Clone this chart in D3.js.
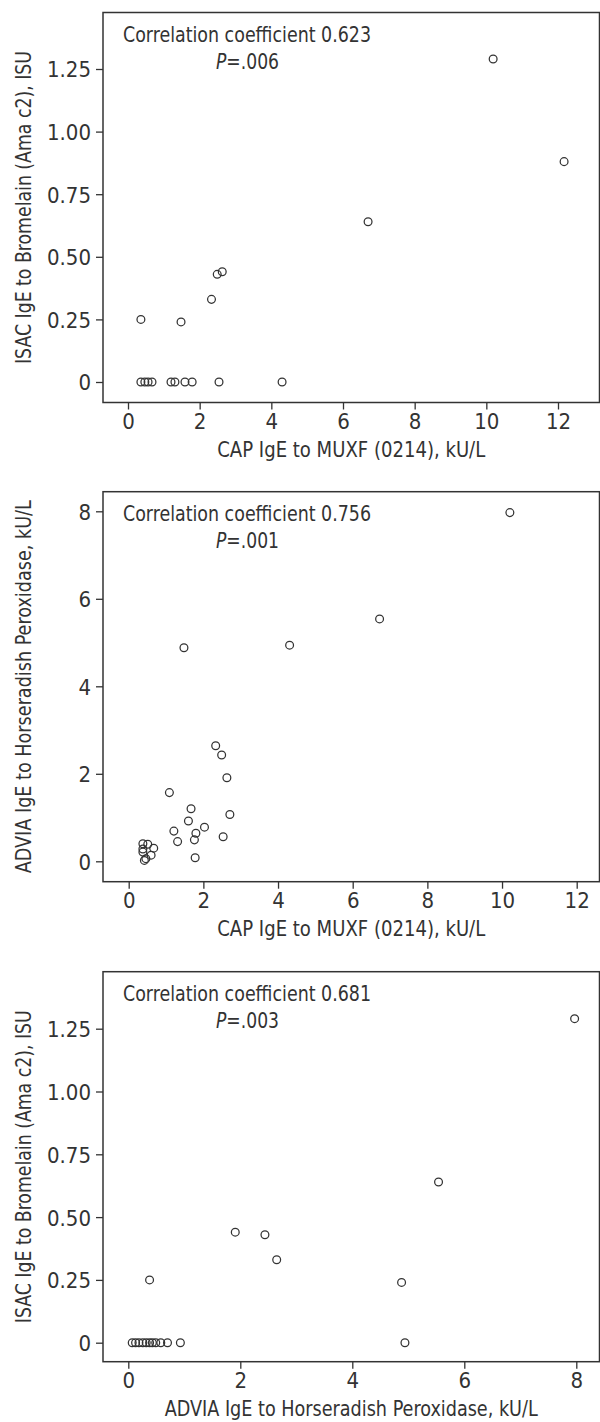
<!DOCTYPE html>
<html>
<head>
<meta charset="utf-8">
<script src="https://cdn.jsdelivr.net/npm/d3@7"></script>
<style>
  html, body { margin: 0; padding: 0; background: #fff; }
  svg { display: block; }
  text { font-family: "Liberation Sans Narrow", "DejaVu Sans Condensed", "Roboto Condensed", sans-serif; fill: #333; }
</style>
</head>
<body>
<svg id="chart" width="600" height="1422"></svg>
<script>
// ---- Data ----
// Panel A: CAP IgE to MUXF (x) vs ISAC IgE to Bromelain (y)
const capA  = [0.36, 0.47, 0.56, 0.67, 1.20, 1.31, 1.59, 1.79, 2.54, 4.30, 0.36, 1.48, 2.33, 2.49, 2.63, 6.70, 10.19, 12.17];
const isacA = [0, 0, 0, 0, 0, 0, 0, 0, 0, 0, 0.25, 0.24, 0.33, 0.43, 0.44, 0.64, 1.29, 0.88];

// Panel B: CAP IgE to MUXF (x) vs ADVIA IgE to Horseradish Peroxidase (y)
const capB   = [10.21, 6.72, 4.31, 1.48, 2.33, 2.49, 2.63, 1.09, 1.67, 2.71, 1.60, 2.03, 1.21, 1.80, 2.53, 1.76, 1.31, 1.78, 0.38, 0.51, 0.67, 0.38, 0.38, 0.60, 0.46, 0.42];
const adviaB = [7.97, 5.54, 4.94, 4.88, 2.64, 2.43, 1.91, 1.57, 1.20, 1.07, 0.92, 0.78, 0.69, 0.64, 0.56, 0.49, 0.45, 0.08, 0.40, 0.39, 0.30, 0.28, 0.21, 0.14, 0.06, 0.02];

// Panel C: ADVIA IgE to Horseradish Peroxidase (x) vs ISAC IgE to Bromelain (y)
const adviaC = [7.97, 5.54, 4.88, 4.94, 1.91, 2.44, 2.65, 0.38, 0.07, 0.13, 0.19, 0.26, 0.32, 0.38, 0.43, 0.49, 0.58, 0.70, 0.93];
const isacC  = [1.29, 0.64, 0.24, 0, 0.44, 0.43, 0.33, 0.25, 0, 0, 0, 0, 0, 0, 0, 0, 0, 0, 0];

// Tick values
const ticksCap   = [0, 2, 4, 6, 8, 10, 12];
const ticksAdvX  = [0, 2, 4, 6, 8];
const ticksIsac  = [0, 0.25, 0.5, 0.75, 1.0, 1.25];
const ticksAdvY  = [0, 2, 4, 6, 8];

// Labels
const titleCap  = "CAP IgE to MUXF (0214), kU/L";
const titleIsac = "ISAC IgE to Bromelain (Ama c2), ISU";
const titleAdv  = "ADVIA IgE to Horseradish Peroxidase, kU/L";
const corrA = ["Correlation coefficient 0.623", ".006"];
const corrB = ["Correlation coefficient 0.756", ".001"];
const corrC = ["Correlation coefficient 0.681", ".003"];

// ---- Drawing ----
const svg = d3.select("#chart");
const INK = "#333";
const fmtIsac = d => d === 0 ? "0" : d3.format(".2f")(d);
const fmtInt = d => String(d);

function panel(cfg) {
  const { top, xs, ys, xTicks, yTicks, xFmt, yFmt, xTitle, yTitle, xTitleLen, yTitleLen, corr, xv, yv } = cfg;
  const left = 103, right = 599.5, bottom = top + 390;
  const g = svg.append("g");

  // frame
  g.append("rect")
    .attr("x", left).attr("y", top)
    .attr("width", right - left).attr("height", bottom - top)
    .attr("fill", "none").attr("stroke", INK).attr("stroke-width", 1.5);

  // axes
  const xAxis = g.append("g").attr("transform", `translate(0,${bottom})`)
    .call(d3.axisBottom(xs).tickValues(xTicks).tickFormat(xFmt).tickSize(7).tickPadding(3));
  const yAxis = g.append("g").attr("transform", `translate(${left},0)`)
    .call(d3.axisLeft(ys).tickValues(yTicks).tickFormat(yFmt).tickSize(7).tickPadding(5));
  [xAxis, yAxis].forEach(a => {
    a.select(".domain").remove();
    a.selectAll(".tick line").attr("stroke", INK).attr("stroke-width", 1.3);
    a.selectAll(".tick text").attr("font-size", 22).attr("fill", INK)
      .style("font-family", '"Liberation Sans Narrow", "DejaVu Sans Condensed", sans-serif');
  });
  yAxis.selectAll(".tick text").attr("dy", "0.36em");
  xAxis.selectAll(".tick text").attr("dy", "0.75em");

  // points
  g.append("g").selectAll("circle")
    .data(xv.map((v, i) => [v, yv[i]]))
    .join("circle")
    .attr("cx", d => xs(d[0])).attr("cy", d => ys(d[1]))
    .attr("r", 3.9)
    .attr("fill", "none").attr("stroke", INK).attr("stroke-width", 1.25);

  // axis titles
  g.append("text")
    .attr("x", (left + right) / 2).attr("y", bottom + 54.5)
    .attr("text-anchor", "middle").attr("font-size", 22)
    .attr("textLength", xTitleLen).attr("lengthAdjust", "spacingAndGlyphs")
    .text(xTitle);
  g.append("text")
    .attr("transform", `translate(31,${(top + bottom) / 2}) rotate(-90)`)
    .attr("text-anchor", "middle").attr("font-size", 22)
    .attr("textLength", yTitleLen).attr("lengthAdjust", "spacingAndGlyphs")
    .text(yTitle);

  // correlation annotation
  g.append("text")
    .attr("x", 123).attr("y", top + 29.5).attr("font-size", 21)
    .attr("textLength", 248).attr("lengthAdjust", "spacingAndGlyphs")
    .text(corr[0]);
  const p = g.append("text")
    .attr("x", 216).attr("y", top + 56.5).attr("font-size", 21)
    .attr("textLength", 63).attr("lengthAdjust", "spacingAndGlyphs");
  p.append("tspan").attr("font-style", "italic").text("P");
  p.append("tspan").text("=" + corr[1]);
}

// Panel A
panel({
  top: 12.5,
  xs: d3.scaleLinear().domain([0, 12]).range([128, 558]),
  ys: d3.scaleLinear().domain([0, 1.25]).range([382, 69]),
  xTicks: ticksCap, yTicks: ticksIsac, xFmt: fmtInt, yFmt: fmtIsac,
  xTitle: titleCap, yTitle: titleIsac, xTitleLen: 268, yTitleLen: 313,
  corr: corrA, xv: capA, yv: isacA
});

// Panel B
panel({
  top: 491.7,
  xs: d3.scaleLinear().domain([0, 12]).range([128.7, 576.7]),
  ys: d3.scaleLinear().domain([0, 8]).range([861.3, 511.3]),
  xTicks: ticksCap, yTicks: ticksAdvY, xFmt: fmtInt, yFmt: fmtInt,
  xTitle: titleCap, yTitle: titleAdv, xTitleLen: 268, yTitleLen: 373,
  corr: corrB, xv: capB, yv: adviaB
});

// Panel C
panel({
  top: 971.7,
  xs: d3.scaleLinear().domain([0, 8]).range([128.3, 576.3]),
  ys: d3.scaleLinear().domain([0, 1.25]).range([1342.7, 1028.7]),
  xTicks: ticksAdvX, yTicks: ticksIsac, xFmt: fmtInt, yFmt: fmtIsac,
  xTitle: titleAdv, yTitle: titleIsac, xTitleLen: 373, yTitleLen: 313,
  corr: corrC, xv: adviaC, yv: isacC
});
</script>
</body>
</html>
